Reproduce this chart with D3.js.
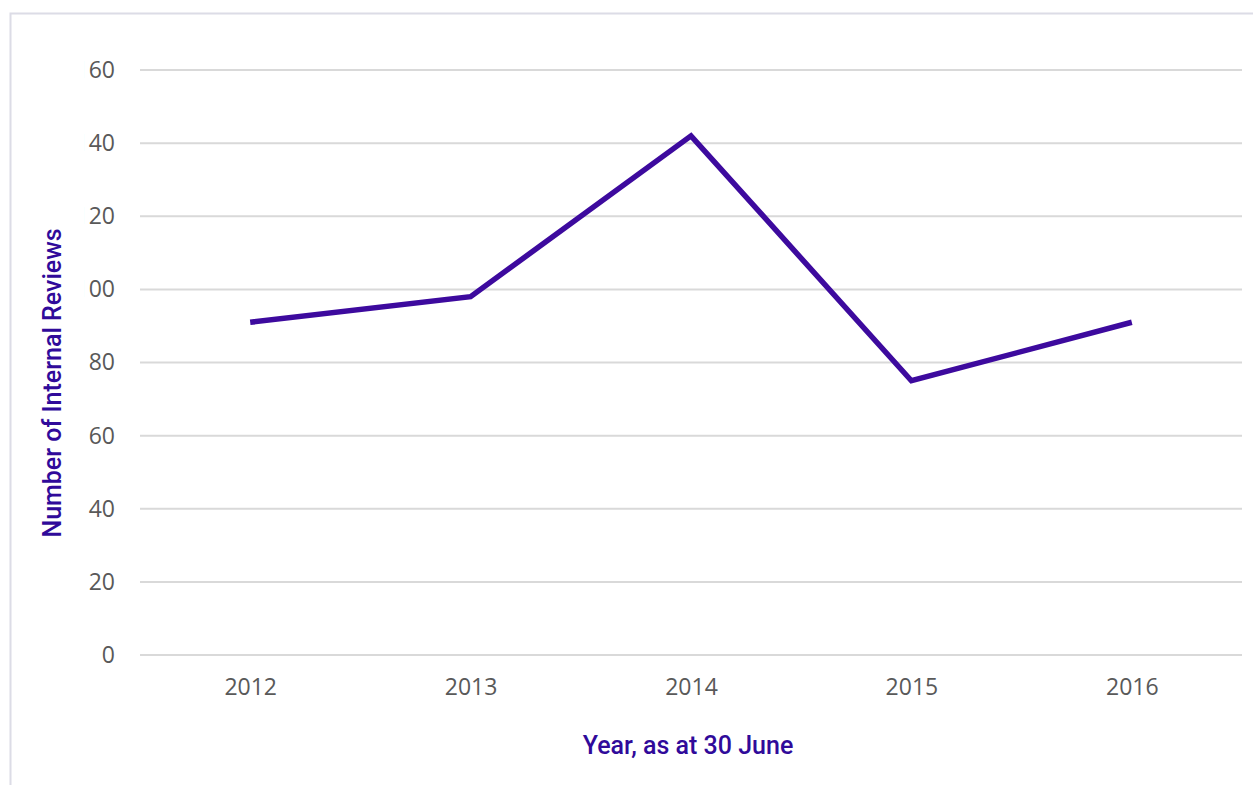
<!DOCTYPE html>
<html><head><meta charset="utf-8">
<script src="https://cdn.jsdelivr.net/npm/d3@7"></script>
<style>body{margin:0;background:#fff;}svg{display:block;}</style>
</head><body>
<svg id="c" width="1253" height="785"></svg>
<script>
const years = ["2012","2013","2014","2015","2016"];
const reviews = [91, 98, 142, 75, 91];
const yTicks = [0,20,40,60,80,100,120,140,160];
const yTitle = "Number of Internal Reviews";
const xTitle = "Year, as at 30 June";

(function(){
const svg = d3.select("#c");
const W = 1253, H = 785;
const mLeft = 140, mRight = 1242, mTop = 70, mBottom = 655;

// frame
svg.append("path").attr("d", `M10.5,${H} L10.5,13.5 L${W},13.5`)
  .attr("fill","none").attr("stroke","#dcdce6").attr("stroke-width",2);

const x = d3.scalePoint().domain(years).range([mLeft, mRight]).padding(0.5);
const y = d3.scaleLinear().domain([0,160]).range([mBottom, mTop]);

// gridlines
svg.append("g").selectAll("line").data(yTicks).join("line")
  .attr("x1", mLeft).attr("x2", mRight)
  .attr("y1", d=>y(d)).attr("y2", d=>y(d))
  .attr("stroke","#d9d9d9").attr("stroke-width",2);

// clip for y labels (leading digit cut off in the original)
svg.append("clipPath").attr("id","yclip").append("rect")
  .attr("x",84.5).attr("y",0).attr("width",60).attr("height",H);

const yAxis = d3.axisLeft(y).tickValues(yTicks).tickSize(0).tickPadding(0);
const gy = svg.append("g").attr("clip-path","url(#yclip)")
  .append("g").attr("transform","translate(115,0)").call(yAxis);
gy.select(".domain").remove();
gy.selectAll("text").attr("font-family","'Open Sans', sans-serif").attr("font-size",23)
  .attr("fill","#595959");

const xAxis = d3.axisBottom(x).tickSize(0).tickPadding(0);
const gx = svg.append("g").attr("transform","translate(0,679)").call(xAxis);
gx.select(".domain").remove();
gx.selectAll("text").attr("font-family","'Open Sans', sans-serif").attr("font-size",23)
  .attr("fill","#595959");

// line
const line = d3.line().x((d,i)=>x(years[i])).y(d=>y(d));
svg.append("path").datum(reviews).attr("d", line)
  .attr("fill","none").attr("stroke","#3d0a9e").attr("stroke-width",5.5)
  .attr("stroke-linejoin","miter");

// titles
svg.append("text").attr("transform","translate(61,383) rotate(-90)")
  .attr("text-anchor","middle").attr("font-family","'Roboto',sans-serif").attr("font-weight",500)
  .attr("font-size",25).attr("fill","#300a9a").text(yTitle);
svg.append("text").attr("x",688).attr("y",754)
  .attr("text-anchor","middle").attr("font-family","'Roboto',sans-serif").attr("font-weight",500)
  .attr("font-size",25).attr("fill","#300a9a").text(xTitle);
})();
</script>
</body></html>
